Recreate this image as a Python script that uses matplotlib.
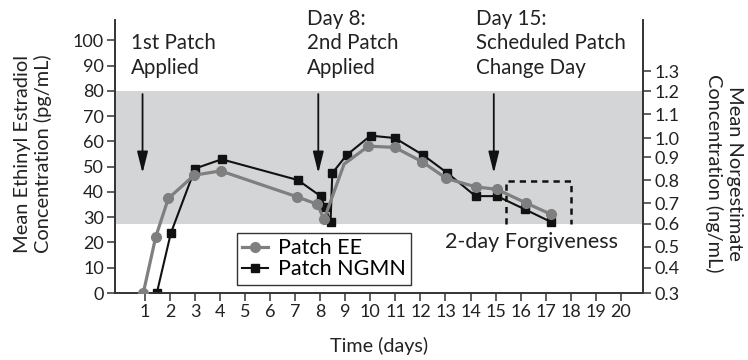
import numpy as np
import matplotlib
matplotlib.use('Agg')
import matplotlib.pyplot as plt
from matplotlib.ticker import NullLocator

plt.rcParams['font.family'] = ['Lato', 'DejaVu Sans']
plt.rcParams['font.size'] = 13

# ethinyl estradiol (pg/mL), left axis
ee_days = [0.93, 1.43, 1.93, 2.96, 4.02, 7.06, 7.88, 8.15, 8.95, 9.92, 10.98, 12.07, 13.04, 14.2, 15.06, 16.2, 17.2]
ee_vals = [0, 22.3, 37.4, 46.6, 48.3, 38.1, 35.1, 29.1, 51.0, 58.1, 57.6, 51.9, 45.3, 42.0, 41.0, 35.7, 31.2]
ee_hidden = [8]  # point sitting under the NGMN square

# norgestimate metabolite (ng/mL), right axis
ngmn_days = [1.47, 2.03, 3.0, 4.06, 7.1, 8.01, 8.19, 8.41, 8.48, 9.05, 10.01, 10.98, 12.11, 13.08, 14.2, 15.06, 16.17, 17.21]
ngmn_vals = [0.30, 0.56, 0.85, 0.89, 0.80, 0.73, 0.68, 0.61, 0.83, 0.91, 1.01, 1.00, 0.91, 0.83, 0.73, 0.73, 0.67, 0.61]

ee_ticks = list(range(0, 101, 10))
day_ticks = list(range(1, 21))
ngmn_ticks = [0.3, 0.4, 0.5, 0.6, 0.7, 0.8, 0.9, 1.0, 1.1, 1.2, 1.3]
# the right axis in the source is not evenly spaced: where each tick sits, in left-axis units
ngmn_tick_pos = [0, 9.9, 18.2, 27.3, 35.6, 44.7, 53.8, 61.3, 70.8, 79.8, 87.7]
ref_range = (0.6, 1.2)

arrow_days = [0.9, 7.92, 14.93]
notes = [(0.44, '\n1st Patch\nApplied'), (7.46, 'Day 8:\n2nd Patch\nApplied'),
         (14.22, 'Day 15:\nScheduled Patch\nChange Day')]
forgive_start, forgive_end, forgive_top = 15.4, 18.0, 44.4

ng_ext = np.array([0.0] + ngmn_ticks + [2.0])
pos_ext = np.array([-26.4] + ngmn_tick_pos + [87.7 + 7 * 8.8])


def fwd(v):
    return np.interp(v, ng_ext, pos_ext)


def inv(p):
    return np.interp(p, pos_ext, ng_ext)


fig = plt.figure(figsize=(7.48, 3.6), dpi=100)
ax = fig.add_axes([115 / 748, 67 / 360, 528 / 748, 273 / 360])
ax2 = ax.twinx()
ax.set_zorder(ax2.get_zorder() + 1)
ax.patch.set_visible(False)

ylo, yhi = 0, 108
ax.set_xlim(-0.2, 20.89)
ax.set_ylim(ylo, yhi)
ax2.set_yscale('function', functions=(fwd, inv))
ax2.set_ylim(float(inv(ylo)), float(inv(yhi)))

ax2.axhspan(ref_range[0], ref_range[1], color='#d4d5d7', lw=0, zorder=0)

ngmn_line, = ax2.plot(ngmn_days, ngmn_vals, color='#111111', lw=1.5, marker='s', ms=6,
                      label='Patch NGMN', zorder=3)
marks = [i for i in range(len(ee_days)) if i not in ee_hidden]
ee_line, = ax.plot(ee_days, ee_vals, color='#7f7f7f', lw=2.3, marker='o', ms=7,
                   markevery=marks, label='Patch EE', zorder=4)

# arrows and notes
for d in arrow_days:
    ax.annotate('', xy=(d, 47.4), xytext=(d, 78.7),
                arrowprops=dict(arrowstyle='-|>,head_length=1.0,head_width=0.25',
                                color='#111111', lw=1.3, mutation_scale=13,
                                shrinkA=0, shrinkB=0))
for x, s in notes:
    ax.text(x, 112.5, s, ha='left', va='top', fontsize=14.8, linespacing=1.28,
            color='#222222', clip_on=False)

ax.plot([forgive_start, forgive_start, forgive_end, forgive_end],
        [27.3, forgive_top, forgive_top, 27.3], color='#111111', lw=1.8,
        ls=(0, (2.5, 2)), zorder=2)
ax.text(16.45, 20.2, '2-day Forgiveness', ha='center',
        va='center', fontsize=15.5, color='#222222')

ax.set_xticks(day_ticks)
ax.set_yticks(ee_ticks)
ax2.set_yticks(ngmn_ticks)
ax2.set_yticklabels([f'{t:.1f}' for t in ngmn_ticks])
ax2.yaxis.set_minor_locator(NullLocator())

for a in (ax, ax2):
    a.spines['top'].set_visible(False)
    for sp in a.spines.values():
        sp.set_color('#333333')
        sp.set_linewidth(1.2)
    a.tick_params(length=6, width=1.1, color='#333333', labelsize=13,
                  labelcolor='#222222', pad=2)

ax.set_xlabel('Time (days)', fontsize=14.2, color='#222222', labelpad=12)
fig.text(33 / 748, 1 - 154 / 360, 'Mean Ethinyl Estradiol\nConcentration (pg/mL)',
         rotation=90, ha='center', va='center', fontsize=14.4, color='#222222',
         linespacing=1.15)
fig.text(724 / 748, 1 - 173 / 360, 'Mean Norgestimate\nConcentration (ng/mL)',
         rotation=270, ha='center', va='center', fontsize=14.4, color='#222222',
         linespacing=1.15)

leg = ax.legend(handles=[ee_line, ngmn_line], loc='upper left',
                bbox_to_anchor=(237 / 748, 1 - 233 / 360), bbox_transform=fig.transFigure,
                borderaxespad=0, fancybox=False, edgecolor='#333333', framealpha=1,
                handlelength=1.2, handletextpad=0.45, borderpad=0.25, labelspacing=0.05,
                fontsize=15.5)
leg.get_frame().set_linewidth(1.0)

fig.savefig('out.png', dpi=100)
